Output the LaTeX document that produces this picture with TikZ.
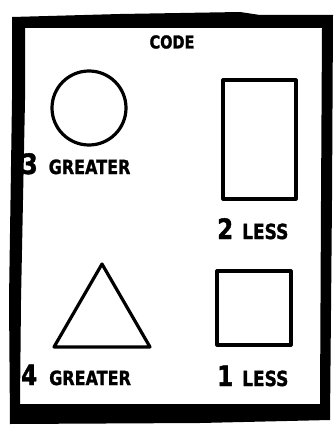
\documentclass[tikz,border=0pt]{standalone}
\usepackage{fontspec}
\usepackage{graphicx}
\setmainfont{DejaVu Sans}
\newfontfamily\hv{DejaVu Sans Bold}[FakeBold=1.5]
\begin{document}
\begin{tikzpicture}[x=1pt,y=-1pt,
  shape line/.style={line width=3.2pt, line join=round},
  lbl/.style={inner sep=0pt, anchor=base west}]
\newcommand\tall[1]{\scalebox{1}[1.22]{#1}}
\newcommand\dg[1]{\tall{\fontsize{23}{23}\selectfont\hv #1}}
\newcommand\gr{\tall{\fontsize{16}{16}\selectfont\hv GREATER}}
\newcommand\ls{\tall{\fontsize{17}{17}\selectfont\hv LESS}}
\useasboundingbox (0,0) rectangle (334,425);
\fill[white] (0,0) rectangle (334,425);
% thick frame
\fill[black, even odd rule]
  (12,17) -- (120,14) -- (240,12) -- (260,15) -- (333,15) -- (332,200) -- (330,420) -- (200,423) -- (10,424) -- (9,300) -- (12,100) -- cycle
  (25,28) -- (322,28) -- (321,200) -- (320,404) -- (20,404) -- (21,300) -- (25,100) -- cycle;
% title
\node[inner sep=0pt] (code) at (172,42) {\tall{\fontsize{14.5}{14.5}\selectfont\hv CODE}};
% shapes
\node[shape line, draw, circle, minimum size=74pt, inner sep=0pt] (circ) at (89,108) {};
\node[shape line, draw, rectangle, minimum width=73pt, minimum height=119pt, inner sep=0pt] (tallrect) at (259.5,139.5) {};
\coordinate (tA) at (102,264);
\coordinate (tB) at (54,347);
\coordinate (tC) at (150,347);
\draw[shape line] (tA) -- (tB) -- (tC) -- cycle;
\node[shape line, draw, rectangle, minimum width=74pt, minimum height=74pt, inner sep=0pt] (sq) at (254,308) {};
% labels
\node[lbl] (l3) at (21.5,174) {\dg{3}\hspace{11pt}\gr};
\node[lbl] (l2) at (217,239) {\dg{2}\hspace{9pt}\ls};
\node[lbl] (l4) at (21,385) {\dg{4}\hspace{12pt}\gr};
\node[lbl] (l1) at (217,386) {\dg{1}\hspace{9pt}\ls};
\end{tikzpicture}
\end{document}
